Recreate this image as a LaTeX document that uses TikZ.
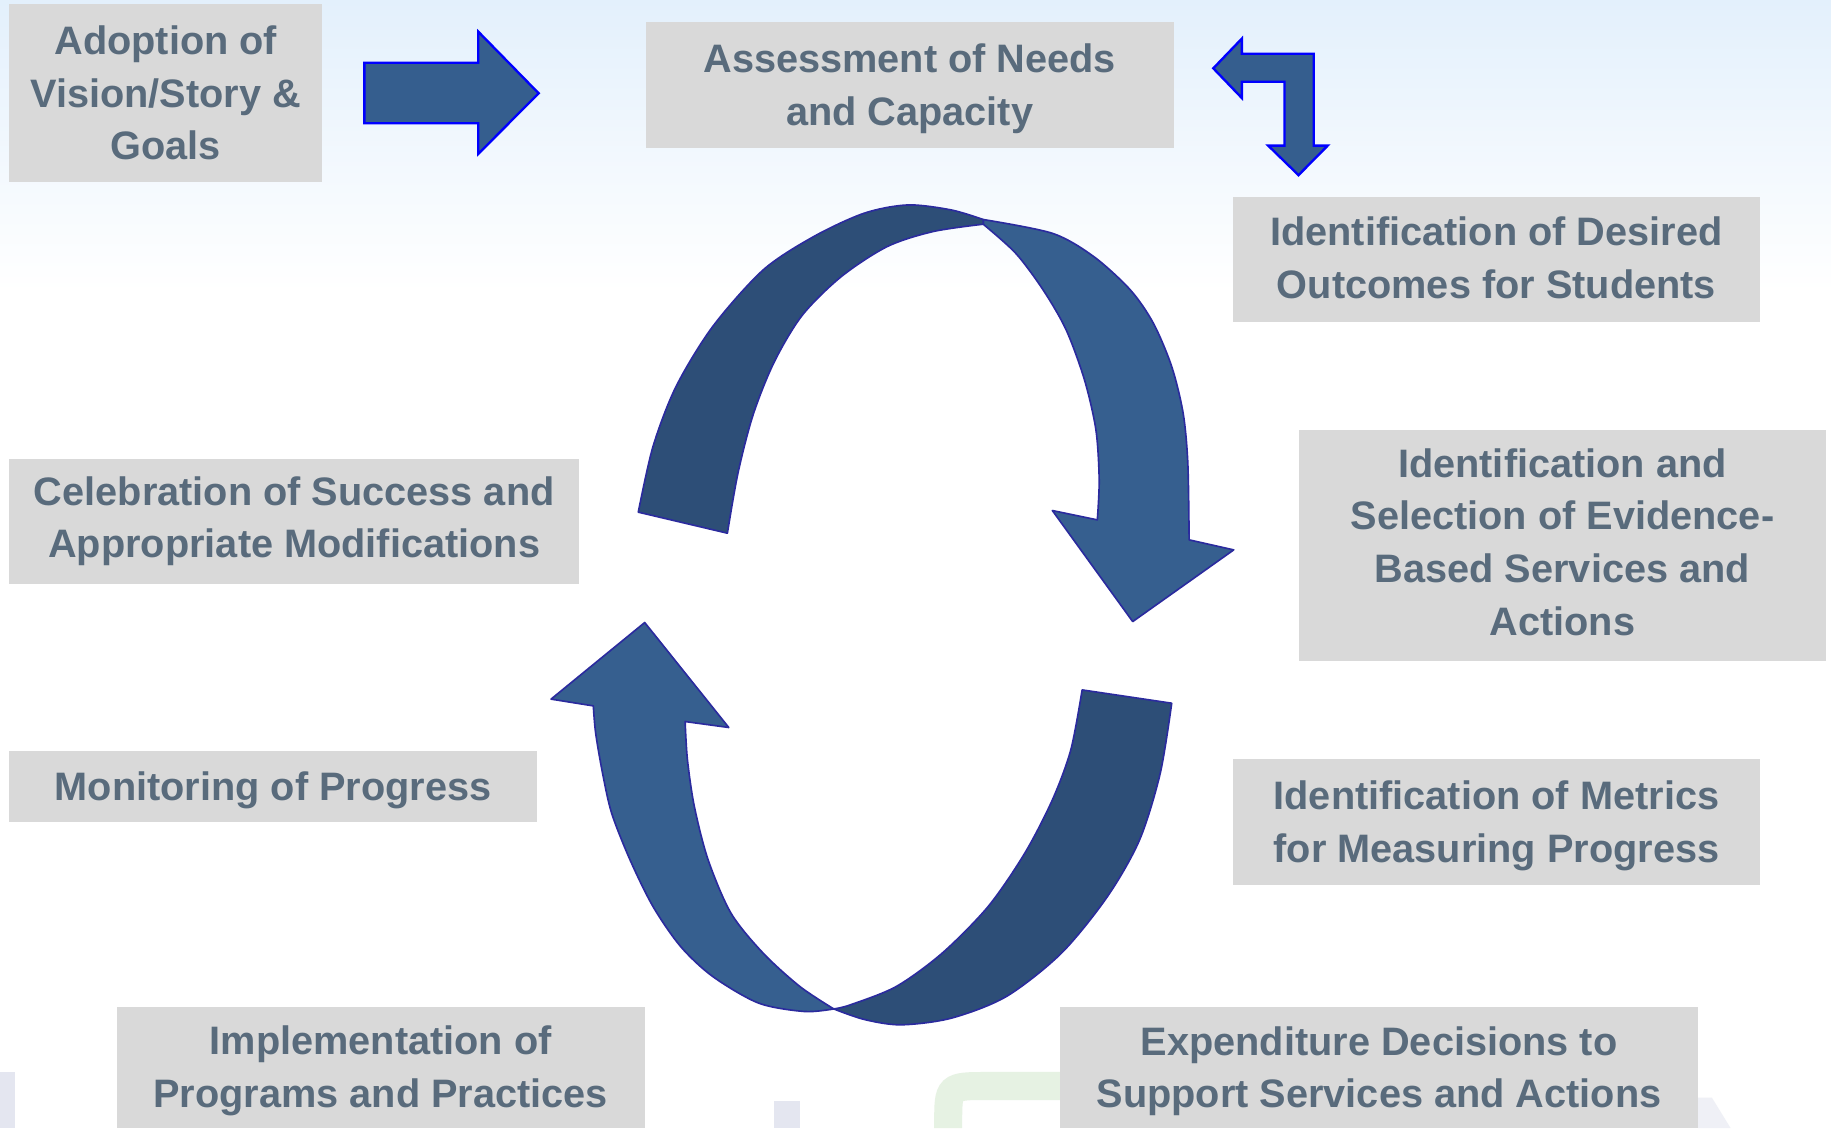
\documentclass[tikz,border=0pt]{standalone}
\usepackage{fontspec}
\setmainfont{Liberation Sans}
\definecolor{boxgrey}{HTML}{D9D9D9}
\definecolor{txt}{HTML}{596B7C}
\definecolor{arrowfill}{HTML}{355E8E}
\definecolor{arrowline}{HTML}{0000FF}
\definecolor{ribd}{HTML}{2D4E77}
\definecolor{ribl}{HTML}{365F8F}
\definecolor{ribline}{HTML}{2B2B9E}
\definecolor{bgtop}{HTML}{E3F0FC}
\definecolor{wmgrey}{HTML}{E4E6F0}
\definecolor{wmgreen}{HTML}{E6F2E3}
\newcommand{\topstrut}{\rule{0pt}{31pt}}
\newcommand{\botstrut}[1]{\rule[-#1]{0pt}{#1}}
\begin{document}
\begin{tikzpicture}[x=1pt,y=-1pt,
  box/.style={fill=boxgrey, draw=none, inner sep=0pt, align=center, text=txt,
    font=\bfseries\fontsize{34}{45}\selectfont},
  flat/.style={fill=arrowfill, draw=arrowline, line width=2pt, line join=miter},
  ribdark/.style={fill=ribd, draw=ribline, line width=1.4pt, line join=round},
  riblight/.style={fill=ribl, draw=ribline, line width=1.4pt, line join=round}]
\useasboundingbox (0,0) rectangle (1568,966);
\fill[white] (0,0) rectangle (1568,966);
\shade[top color=bgtop, bottom color=white] (0,0) rectangle (1568,250);
% faint watermark pieces
\fill[wmgrey] (0,918) rectangle (13,966);
\fill[wmgrey] (663,943) rectangle (685,966);
\draw[wmgreen, line width=24pt] (812,966) -- (812,962) .. controls (812,930) .. (846,930) -- (910,930);
\fill[wmgrey!60] (1454,940) -- (1466,940) -- (1482,966) -- (1454,966) -- cycle;
% boxes
\node[box, minimum width=268pt, minimum height=153pt] (adopt) at (142,79.5) {Adoption of\\Vision/Story \&\\Goals};
\node[box, minimum width=452pt, minimum height=108pt] (assess) at (779,73) {\topstrut Assessment of Needs\\and Capacity};
\node[box, minimum width=451pt, minimum height=107pt] (desired) at (1281.5,222.5) {Identification of Desired\\Outcomes for Students\botstrut{4pt}};
\node[box, minimum width=452pt, minimum height=198pt] (select) at (1338,467) {Identification and\\Selection of Evidence-\\Based Services and\\Actions\botstrut{6pt}};
\node[box, minimum width=451pt, minimum height=108pt] (metrics) at (1281.5,704) {\topstrut Identification of Metrics\\for Measuring Progress};
\node[box, minimum width=546pt, minimum height=104pt] (expend) at (1181,914) {\topstrut Expenditure Decisions to\\Support Services and Actions};
\node[box, minimum width=452pt, minimum height=104pt] (impl) at (326,914) {\topstrut Implementation of\\Programs and Practices};
\node[box, minimum width=452pt, minimum height=61pt] (monitor) at (234,673.5) {\topstrut Monitoring of Progress};
\node[box, minimum width=488pt, minimum height=107pt] (celeb) at (252,446.5) {Celebration of Success and\\Appropriate Modifications};
% straight arrow
\draw[flat] (312,53.7) -- (409.6,53.7) -- (409.6,27.1) -- (461.3,79.9) -- (409.6,131.8) -- (409.6,105.6) -- (312,105.6) -- cycle;
% bent arrow
\draw[flat] (1039,58.5) -- (1063.5,33) -- (1063.5,46) -- (1125,46) -- (1125,124.7) -- (1137,124.7) -- (1112,150) -- (1086,124.7) -- (1100,124.7) -- (1100,70) -- (1063.5,70) -- (1063.5,84) -- cycle;
% upper ribbon
\path[riblight] plot[smooth] coordinates {(842,188) (901.2,199.8) (936.6,219.7) (968,248.3) (987.7,276.8) (1003.4,313.9) (1013.2,353.9) (1017.2,396.7) (1018.3,462.3)}
  -- (1056.5,470.9) -- (970,532.3) -- (901.2,437.2) -- (939.7,445.2)
  -- plot[smooth] coordinates {(939.7,445.2) (941.3,411) (938.5,368.2) (928.7,325.3) (913,282.5) (893.3,248.3) (869.8,216.9) (842,192)} -- cycle;
\path[ribdark] plot[smooth] coordinates {(546.6,438.6) (559.2,382.4) (578.9,331.1) (610.3,279.7) (653.5,231.2) (696.8,202.6) (740,182.6) (777.4,175.5) (814.7,179.8) (842,188)}
  -- plot[smooth] coordinates {(842,192) (799,198.3) (759.7,211.2) (720.4,236.9) (687,270) (663,310) (645,355) (632,405) (622.9,456.6)} -- cycle;
% lower ribbon
\path[riblight] (552.1,533.1) -- (624.1,623) -- (586.7,617.9)
  -- plot[smooth] coordinates {(586.7,617.9) (588.7,650.7) (594.6,690.6) (606.4,736.3) (626,782) (653.5,816.2) (685,844.8) (714,864)}
  -- plot[smooth] coordinates {(714,864) (688.9,866.2) (649.6,859) (610.3,836.2) (582.8,810.5) (559.2,776.3) (539.5,736.3) (523.8,696.4) (516,662.1) (510.1,627.9) (508.1,604.5)}
  -- (471.9,598.7) -- cycle;
\path[ribdark] plot[smooth] coordinates {(714,864) (740,873) (771.5,877.6) (814.7,871.9) (861.9,853.3) (909,816.2) (948.4,767.7) (975.9,719.2) (993.6,662.1) (1003.4,602.2)}
  -- (926.7,590.8)
  -- plot[smooth] coordinates {(926.7,590.8) (917,642.1) (901.2,685) (877.6,730.6) (846.2,776.3) (806.9,816.2) (767.5,844.8) (728.2,860.5) (714,864)} -- cycle;
\end{tikzpicture}
\end{document}
